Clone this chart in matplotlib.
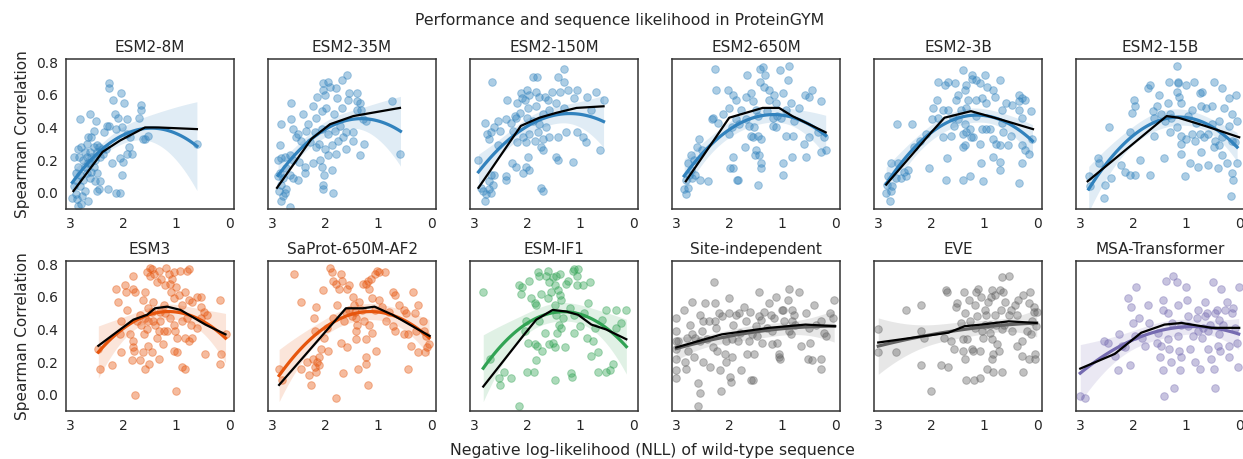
import numpy as np
import matplotlib
matplotlib.use("Agg")
import matplotlib.pyplot as plt

# model names and colours
models = ["ESM2-8M", "ESM2-35M", "ESM2-150M", "ESM2-650M", "ESM2-3B", "ESM2-15B",
          "ESM3", "SaProt-650M-AF2", "ESM-IF1", "Site-independent", "EVE", "MSA-Transformer"]
colors = ["#3182bd"] * 6 + ["#e6550d", "#e6550d", "#31a354", "#636363", "#636363", "#756bb1"]

# (NLL, spearman)
esm2_8m = [(2.82, .45), (2.62, .48), (2.52, .44), (2.27, .67), (2.27, .64), (2.20, .57), (2.04, .61), (1.98, .55),
           (2.15, .48), (2.09, .46), (1.92, .45), (1.71, .46), (1.66, .54), (1.66, .51), (2.55, .38), (2.60, .34),
           (2.31, .41), (2.27, .41), (2.36, .37), (2.13, .39), (2.03, .40), (1.93, .36), (1.87, .34), (1.90, .28),
           (1.92, .24), (1.84, .24), (1.54, .35), (1.63, .33), (1.59, .33), (0.61, .30), (2.06, .21), (2.01, .19),
           (2.22, .18), (2.02, .11), (2.14, .00), (2.06, .00), (2.29, .02), (2.86, .27), (2.93, .22), (2.83, .22),
           (2.75, .20), (2.68, .22), (2.62, .25), (2.55, .28), (2.50, .29), (2.45, .28), (2.41, .27), (2.49, .25),
           (2.60, .22), (2.53, .20), (2.66, .18), (2.72, .16), (2.85, .16), (2.89, .12), (2.82, .11), (2.69, .12),
           (2.60, .13), (2.50, .12), (2.44, .07), (2.53, .07), (2.63, .09), (2.75, .08), (2.87, .07), (2.93, .04),
           (2.82, .04), (2.72, .01), (2.49, .01), (2.46, .02), (2.96, -.03), (2.88, -.04), (2.79, -.07), (2.85, -.08),
           (2.67, -.05), (2.90, -.01), (2.77, -.02), (2.63, .18), (2.44, .22), (2.38, .24), (2.33, .27), (2.56, .16),
           (2.72, .25), (2.79, .28), (2.69, .30), (2.66, .34)]
esm2_35m = [(2.64, .55), (2.83, .42), (2.64, .45), (2.42, .48), (2.07, .50), (2.23, .53), (2.15, .59), (2.05, .67),
            (2.05, .63), (1.94, .68), (1.91, .65), (2.01, .60), (1.79, .64), (1.69, .69), (1.58, .72), (1.77, .58),
            (1.55, .61), (1.57, .57), (1.40, .61), (1.41, .56), (1.35, .55), (0.74, .56), (1.32, .51), (1.23, .44),
            (1.27, .30), (1.34, .23), (0.58, .24), (1.69, .52), (1.83, .48), (1.98, .52), (2.18, .46), (2.33, .42),
            (2.36, .38), (2.52, .36), (2.55, .34), (2.61, .39), (2.45, .32), (2.29, .31), (2.17, .28), (2.12, .30),
            (2.01, .27), (1.88, .29), (1.76, .32), (1.66, .34), (1.60, .37), (1.48, .32), (1.47, .37), (1.60, .27),
            (1.79, .24), (1.94, .23), (2.10, .20), (2.07, .16), (2.23, .18), (2.39, .16), (2.49, .19), (2.39, .12),
            (2.03, .11), (1.88, .14), (2.04, .05), (2.05, .02), (1.86, .00), (2.86, .29), (2.84, .21), (2.89, .20),
            (2.76, .22), (2.67, .23), (2.61, .20), (2.74, .15), (2.86, .12), (2.89, .10), (2.80, .09), (2.67, .11),
            (2.61, .09), (2.52, .08), (2.83, .05), (2.74, .02), (2.88, .01), (2.80, -.02), (2.83, -.05), (2.67, -.09),
            (2.75, .00), (1.72, .41), (1.82, .38), (1.94, .36), (1.41, .51), (1.28, .45), (2.07, .39), (2.20, .37)]
esm2_150m = [(2.66, .68), (2.92, .20), (2.80, .43), (2.75, .36), (2.68, .37), (2.62, .40), (2.55, .44), (2.52, .38),
             (2.72, .33), (2.55, .29), (2.40, .45), (2.38, .57), (2.31, .43), (2.27, .38), (2.21, .46), (2.20, .55),
             (2.12, .61), (2.10, .58), (2.05, .57), (2.01, .63), (1.96, .60), (1.89, .71), (1.82, .71), (1.84, .62),
             (1.77, .59), (1.66, .59), (1.61, .57), (1.53, .62), (1.42, .71), (1.30, .76), (1.31, .68), (1.39, .62),
             (1.23, .63), (1.07, .63), (0.88, .59), (0.71, .62), (0.56, .57), (0.79, .51), (1.11, .58), (1.30, .52),
             (1.45, .55), (1.58, .51), (1.71, .48), (1.83, .53), (1.99, .52), (2.13, .49), (2.24, .47), (2.01, .46),
             (1.89, .44), (1.77, .42), (1.64, .40), (1.80, .37), (1.96, .36), (2.08, .34), (2.20, .31), (2.02, .31),
             (1.86, .32), (1.71, .33), (1.58, .34), (1.42, .34), (1.26, .37), (1.06, .37), (0.95, .34), (0.90, .31),
             (0.63, .26), (1.14, .19), (1.45, .22), (1.42, .20), (1.74, .28), (1.71, .26), (1.99, .22), (2.03, .16),
             (1.96, .14), (2.08, .12), (2.21, .16), (2.29, .18), (2.41, .10), (2.40, .08), (1.74, .03), (1.71, .01),
             (2.68, .11), (2.62, .11), (2.72, .07), (2.65, .05), (2.73, .02), (2.84, .01), (2.78, -.01), (2.68, .00),
             (2.79, -.05), (2.87, .03)]
esm2_650m = [(2.27, .76), (2.25, .63), (2.02, .63), (1.93, .60), (1.88, .57), (2.00, .52), (2.11, .48), (2.31, .46),
             (2.21, .43), (2.33, .45), (2.57, .33), (2.60, .28), (2.51, .26), (2.73, .23), (2.66, .20), (2.77, .18),
             (2.73, .14), (2.65, .11), (2.76, .11), (2.81, .08), (2.85, .02), (2.82, -.01), (2.77, .03), (2.56, .08),
             (2.41, .07), (2.70, .09), (1.92, .22), (1.98, .15), (1.92, .15), (1.86, .08), (1.83, .08), (1.70, .28),
             (1.66, .72), (1.78, .51), (1.69, .59), (1.59, .61), (1.56, .56), (1.50, .51), (1.45, .47), (1.62, .41),
             (1.53, .40), (1.59, .35), (1.56, .34), (1.46, .35), (1.40, .33), (1.50, .26), (1.44, .23), (1.51, .23),
             (1.40, .18), (1.40, .15), (1.45, .05), (1.42, .76), (1.36, .77), (1.32, .72), (1.42, .68), (1.34, .65),
             (1.25, .63), (1.15, .60), (1.05, .75), (0.88, .78), (0.90, .69), (0.98, .61), (1.12, .55), (1.25, .57),
             (1.28, .50), (1.18, .46), (1.03, .46), (0.93, .51), (0.84, .55), (0.68, .52), (0.57, .60), (0.44, .63),
             (0.49, .59), (0.27, .56), (1.12, .40), (0.93, .35), (0.79, .35), (0.99, .18), (0.99, .11), (0.81, .22),
             (0.59, .30), (0.55, .22), (0.49, .34), (0.27, .25), (0.18, .26), (0.33, .37), (0.21, .34), (1.69, .45),
             (1.81, .42), (1.94, .40), (2.00, .36), (1.88, .45), (1.18, .41), (1.09, .47), (0.78, .44)]
esm2_3b = [(2.83, .05), (2.85, .00), (2.76, .01), (2.78, -.05), (2.74, .04), (2.81, .10), (2.76, .18), (2.63, .18),
           (2.65, .42), (2.36, .42), (2.66, .09), (2.57, .09), (2.47, .10), (2.44, .14), (2.51, .13), (2.04, .15),
           (2.32, .28), (2.22, .32), (2.10, .36), (1.99, .45), (1.96, .52), (1.89, .57), (1.88, .68), (1.74, .66),
           (1.68, .68), (1.56, .67), (1.87, .46), (1.78, .51), (1.68, .51), (1.70, .21), (1.73, .08), (1.78, .34),
           (1.63, .35), (1.57, .41), (1.53, .57), (1.49, .60), (1.40, .75), (1.37, .63), (1.34, .66), (1.24, .72),
           (1.23, .70), (1.15, .69), (1.08, .67), (0.99, .72), (0.94, .65), (0.83, .63), (0.70, .69), (1.43, .51),
           (1.34, .52), (1.30, .57), (1.16, .57), (1.05, .58), (0.96, .55), (0.80, .59), (0.67, .51), (0.58, .55),
           (0.47, .54), (0.34, .60), (0.29, .58), (0.23, .57), (0.35, .56), (0.11, .50), (0.29, .46), (0.35, .51),
           (1.37, .42), (1.40, .36), (1.34, .37), (1.27, .39), (1.21, .34), (1.40, .28), (1.37, .29), (1.25, .34),
           (1.08, .30), (1.05, .39), (0.96, .39), (0.89, .39), (0.83, .33), (0.77, .30), (0.67, .43), (0.64, .37),
           (0.49, .35), (0.56, .29), (0.70, .29), (0.84, .22), (0.70, .19), (0.70, .14), (1.06, .18), (1.03, .07),
           (1.26, .10), (1.40, .08), (0.29, .18), (0.35, .06), (0.28, .29), (0.23, .26), (0.16, .24), (0.09, .33),
           (1.49, .45), (1.58, .46), (1.15, .47)]
esm2_15b = [(2.84, .10), (2.82, .04), (2.56, -.03), (2.66, .21), (2.64, .18), (2.53, .05), (2.42, .09), (2.46, .40),
            (2.23, .17), (2.15, .13), (2.07, .11), (1.97, .11), (1.88, .20), (2.07, .37), (2.03, .49), (1.99, .57),
            (1.97, .53), (1.73, .64), (1.69, .66), (1.69, .11), (1.61, .35), (1.62, .50), (1.61, .46), (1.55, .53),
            (1.51, .60), (1.42, .21), (1.35, .55), (1.33, .68), (1.31, .37), (1.28, .46), (1.18, .78), (1.16, .67),
            (1.15, .68), (1.18, .62), (1.14, .59), (1.00, .66), (0.85, .68), (0.74, .61), (0.70, .62), (0.47, .68),
            (0.33, .64), (0.06, .60), (0.20, .58), (1.09, .55), (0.90, .51), (0.72, .53), (0.62, .52), (0.52, .53),
            (0.28, .52), (0.14, .48), (0.04, .44), (1.18, .40), (1.09, .35), (0.90, .36), (0.74, .36), (0.66, .34),
            (0.58, .36), (0.46, .32), (0.33, .34), (0.20, .41), (0.14, .32), (0.08, .31), (1.09, .30), (1.00, .33),
            (1.10, .24), (1.02, .10), (0.93, .18), (0.77, .16), (0.72, .25), (0.59, .17), (0.40, .15), (0.33, .23),
            (0.23, .18), (0.14, .12), (0.11, .08), (0.15, -.02), (0.04, .18), (0.47, .28), (0.39, .29), (0.84, .32),
            (1.41, .44), (1.47, .48), (1.31, .48), (0.97, .47), (0.81, .43), (0.52, .42), (0.39, .44)]
esm3 = [(2.47, .28), (2.44, .16), (2.22, .18), (2.14, .65), (2.09, .57), (2.05, .45), (2.06, .37), (2.05, .26),
        (1.96, .67), (1.94, .63), (1.92, .52), (1.81, .73), (1.81, .65), (1.78, .63), (1.82, .33), (1.81, .29),
        (1.79, .27), (1.83, .21), (1.78, .00), (1.74, .45), (1.69, .21), (1.68, .49), (1.63, .58), (1.60, .37),
        (1.59, .47), (1.55, .40), (1.59, .63), (1.55, .75), (1.50, .78), (1.46, .77), (1.50, .73), (1.42, .74),
        (1.36, .69), (1.33, .76), (1.29, .71), (1.54, .53), (1.46, .51), (1.43, .45), (1.40, .43), (1.33, .39),
        (1.36, .35), (1.54, .30), (1.46, .26), (1.33, .22), (1.52, .19), (1.62, .26), (1.25, .31), (1.30, .45),
        (1.24, .55), (1.21, .67), (1.19, .78), (1.14, .74), (1.11, .68), (1.08, .71), (1.05, .75), (1.10, .63),
        (1.05, .59), (1.00, .66), (0.95, .61), (0.92, .76), (0.80, .76), (0.75, .77), (0.83, .63), (0.89, .55),
        (0.76, .58), (0.70, .57), (0.61, .60), (0.53, .60), (0.54, .54), (0.47, .51), (0.42, .49), (0.54, .47),
        (1.11, .47), (1.05, .43), (1.17, .39), (1.02, .39), (0.98, .35), (1.05, .27), (0.98, .26), (1.24, .39),
        (0.83, .35), (0.76, .33), (0.70, .35), (0.73, .43), (0.61, .41), (0.80, .47), (0.89, .45), (0.89, .17),
        (0.84, .16), (1.00, .02), (0.45, .25), (0.18, .58), (0.15, .25), (0.18, .19), (0.07, .37), (1.54, .45),
        (1.67, .43), (1.87, .37), (1.43, .57), (1.30, .51), (1.21, .50), (1.59, .16)]
saprot = [(2.87, .16), (2.81, .09), (2.59, .74), (2.46, .57), (2.46, .16), (2.34, .20), (2.31, .12), (2.27, .06),
          (2.24, .22), (2.19, .17), (2.18, .14), (2.15, .20), (2.12, .23), (2.21, .47), (2.19, .39), (2.18, .54),
          (2.08, .28), (2.04, .64), (1.96, .41), (1.94, .27), (1.91, .78), (1.88, .75), (1.86, .70), (1.80, .68),
          (1.80, -.02), (1.77, .55), (1.74, .65), (1.71, .74), (1.69, .70), (1.71, .32), (1.67, .13), (1.64, .45),
          (1.58, .29), (1.55, .67), (1.58, .65), (1.48, .60), (1.45, .55), (1.61, .51), (1.55, .52), (1.50, .48),
          (1.43, .51), (1.42, .47), (1.41, .43), (1.36, .57), (1.31, .52), (1.28, .68), (1.24, .68), (1.20, .70),
          (1.14, .71), (1.07, .74), (1.03, .76), (0.98, .75), (0.87, .75), (1.17, .65), (1.12, .59), (1.07, .52),
          (1.42, .39), (1.42, .34), (1.39, .16), (1.26, .45), (1.24, .34), (1.23, .23), (1.24, .19), (1.17, .43),
          (1.12, .38), (1.04, .27), (1.20, .06), (0.98, .58), (0.92, .54), (0.85, .45), (0.79, .51), (0.73, .63),
          (0.69, .61), (0.73, .42), (0.69, .39), (0.60, .55), (0.52, .52), (0.47, .50), (0.51, .37), (0.44, .37),
          (0.44, .16), (0.35, .63), (0.30, .50), (0.25, .55), (0.28, .39), (0.38, .30), (0.16, .45), (0.13, .39),
          (0.09, .36), (0.08, .29), (0.11, .26), (0.04, .31), (0.25, .26), (1.86, .47), (2.02, .35), (2.12, .18)]
esm_if1 = [(2.83, .63), (2.70, .22), (2.53, .10), (2.51, .06), (2.43, .14), (2.31, .10), (2.16, -.07), (2.15, .67),
           (2.10, .66), (2.12, .62), (1.96, .70), (1.93, .59), (1.86, .56), (1.83, .55), (2.05, .39), (2.02, .45),
           (1.99, .32), (2.01, .14), (1.88, .14), (1.83, .21), (1.85, .31), (1.81, .30), (1.80, .75), (1.77, .73),
           (1.77, .45), (1.72, .27), (1.74, .62), (1.65, .73), (1.61, .76), (1.58, .69), (1.55, .63), (1.52, .72),
           (1.48, .67), (1.45, .73), (1.39, .74), (1.42, .64), (1.38, .61), (1.36, .58), (1.45, .49), (1.44, .38),
           (1.40, .43), (1.52, .32), (1.48, .29), (1.58, .31), (1.47, .09), (1.36, .41), (1.28, .29), (1.26, .68),
           (1.23, .70), (1.20, .53), (1.17, .13), (1.15, .11), (1.14, .76), (1.11, .77), (1.07, .73), (1.11, .38),
           (1.07, .67), (1.04, .77), (0.95, .67), (0.92, .50), (0.88, .35), (0.85, .56), (0.82, .69), (0.76, .33),
           (0.79, .24), (0.73, .41), (0.66, .26), (0.66, .14), (0.58, .46), (0.51, .52), (0.51, .14), (0.43, .15),
           (0.39, .19), (0.33, .52), (0.32, .41), (0.24, .44), (0.13, .52), (1.11, .49), (1.01, .42), (1.33, .47),
           (1.48, .55), (1.61, .59), (1.67, .38)]
site_indep = [(3.00, .47), (3.00, .39), (3.00, .33), (3.00, .28), (3.00, .22), (3.00, .15), (3.00, .10), (2.97, .33),
              (2.86, .52), (2.83, .20), (2.82, .16), (2.80, .35), (2.77, .27), (2.74, .43), (2.70, .57), (2.67, .23),
              (2.64, .35), (2.58, .07), (2.56, .01), (2.58, -.07), (2.55, .49), (2.51, .39), (2.49, .20), (2.45, .56),
              (2.42, .34), (2.39, .45), (2.36, .17), (2.31, .29), (2.29, .69), (2.27, .56), (2.25, .41), (2.23, .27),
              (2.17, .15), (2.15, .02), (2.14, .48), (2.08, .25), (2.07, .33), (2.06, .20), (2.01, .59), (2.00, .50),
              (1.98, .11), (1.96, .08), (1.95, .23), (1.92, .43), (1.88, .49), (1.83, .33), (1.79, .38), (1.77, .15),
              (1.72, .54), (1.69, .45), (1.66, .25), (1.63, .33), (1.60, .51), (1.58, .09), (1.55, .09), (1.53, .25),
              (1.50, .42), (1.47, .36), (1.44, .63), (1.41, .46), (1.38, .32), (1.35, .51), (1.28, .41), (1.25, .56),
              (1.22, .49), (1.19, .39), (1.11, .60), (1.09, .32), (1.07, .23), (1.06, .25), (1.05, .22), (1.01, .52),
              (0.99, .52), (0.97, .45), (0.90, .58), (0.87, .65), (0.87, .39), (0.84, .37), (0.81, .52), (0.78, .49),
              (0.75, .43), (0.68, .63), (0.65, .30), (0.56, .50), (0.52, .22), (0.48, .32), (0.43, .21), (0.40, .55),
              (0.37, .43), (0.27, .45), (0.27, .22), (0.27, .16), (0.21, .38), (0.18, .36), (0.10, .50), (0.05, .47),
              (0.02, .58), (2.49, .45), (2.26, .45), (2.20, .50), (1.82, .50), (1.44, .48), (1.15, .47), (0.81, .45),
              (2.70, .37), (2.55, .33), (1.95, .34), (1.57, .37), (1.19, .31), (0.49, .41)]
eve = [(3.00, .40), (3.00, .26), (2.66, .26), (2.47, .52), (2.20, .55), (2.19, .39), (2.19, .18), (2.14, .35),
       (2.01, .02), (1.82, .18), (1.75, .35), (1.72, .64), (1.70, .63), (1.68, .17), (1.63, .33), (1.57, .28),
       (1.54, .54), (1.52, .56), (1.43, .44), (1.40, .34), (1.40, .27), (1.37, .50), (1.37, .22), (1.38, .63),
       (1.34, .09), (1.32, .34), (1.29, .58), (1.27, .45), (1.24, .28), (1.21, .27), (1.19, .09), (1.18, .55),
       (1.15, .63), (1.11, .65), (1.13, .48), (1.08, .27), (1.08, .10), (1.06, .60), (1.05, .39), (1.02, .35),
       (0.99, .52), (0.94, .16), (0.92, .57), (0.89, .43), (0.89, .38), (0.87, .60), (0.86, .34), (0.86, .22),
       (0.85, .64), (0.83, .25), (0.83, .14), (0.80, .61), (0.80, .49), (0.77, .43), (0.75, .31), (0.73, .27),
       (0.70, .64), (0.68, .52), (0.67, .72), (0.66, .40), (0.66, .14), (0.64, .63), (0.62, .43), (0.61, .57),
       (0.54, .73), (0.54, .49), (0.49, .52), (0.48, .39), (0.42, .55), (0.39, .49), (0.39, .30), (0.37, .58),
       (0.29, .24), (0.26, .14), (0.28, .33), (0.26, .61), (0.20, .39), (0.16, .56), (0.16, .22), (0.13, .63),
       (0.11, .37), (0.07, .54), (0.07, .51), (0.05, .25), (0.04, .22), (0.03, .42), (0.01, .51), (0.10, .45),
       (0.99, .43), (1.18, .41), (0.96, .49)]
msa_tr = [(3.00, -.01), (2.91, -.02), (2.56, .33), (2.47, .32), (2.34, .24), (2.28, .15), (2.26, .37), (2.22, .30),
          (2.16, .29), (2.10, .59), (2.07, .18), (2.04, .54), (2.01, .44), (1.96, .36), (1.94, .66), (1.90, .47),
          (1.84, .35), (1.78, .30), (1.72, .55), (1.71, .44), (1.56, .32), (1.50, .23), (1.48, .30), (1.44, .52),
          (1.44, .58), (1.44, .15), (1.42, -.01), (1.39, .70), (1.35, .50), (1.34, .34), (1.33, .28), (1.29, .20),
          (1.27, .44), (1.25, .73), (1.23, .04), (1.18, .69), (1.15, .55), (1.14, .27), (1.12, .15), (1.09, .23),
          (1.09, .43), (1.01, .66), (0.99, .58), (0.96, .48), (0.93, .28), (0.87, .36), (0.84, .20), (0.80, .47),
          (0.77, .52), (0.74, .16), (0.71, .35), (0.68, .41), (0.65, .57), (0.61, .50), (0.58, .28), (0.55, .43),
          (0.53, .22), (0.49, .69), (0.47, .16), (0.46, .04), (0.42, .52), (0.41, .30), (0.39, .46), (0.36, .27),
          (0.34, .65), (0.30, .43), (0.27, .52), (0.23, .57), (0.20, .30), (0.20, .23), (0.14, .50), (0.11, .53),
          (0.04, .32), (0.03, .17), (0.01, .66), (0.08, .41), (0.96, .42), (0.77, .39), (0.58, .39), (0.39, .37),
          (1.15, .36), (1.53, .38), (0.65, .48), (0.46, .50)]

# binned-mean trend lines (black)
trend_x = [[2.94, 2.39, 2.06, 1.59, 1.33, 0.61],
           [2.91, 2.26, 1.91, 1.47, 0.59],
           [2.92, 2.12, 1.77, 1.45, 1.07, 0.56],
           [2.82, 2.00, 1.37, 1.06, 0.81, 0.18],
           [2.85, 2.00, 1.75, 1.25, 0.70, 0.08],
           [2.86, 1.37, 1.15, 0.65, 0.00],
           [2.47, 1.81, 1.55, 1.40, 1.17, 0.92, 0.45, 0.07],
           [2.87, 1.61, 1.29, 1.07, 0.73, 0.03],
           [2.83, 2.08, 1.83, 1.52, 1.26, 1.04, 0.79, 0.51, 0.13],
           [3.00, 2.14, 1.25, 0.56, 0.00],
           [3.00, 1.68, 1.37, 1.05, 0.54, 0.01],
           [3.00, 2.35, 1.85, 1.41, 1.09, 0.71, 0.52, 0.00]]
trend_y = [[0.01, 0.25, 0.32, 0.40, 0.40, 0.39],
           [0.03, 0.33, 0.42, 0.47, 0.52],
           [0.03, 0.41, 0.46, 0.49, 0.52, 0.53],
           [0.07, 0.46, 0.52, 0.52, 0.47, 0.37],
           [0.05, 0.37, 0.46, 0.50, 0.45, 0.39],
           [0.07, 0.47, 0.46, 0.41, 0.34],
           [0.30, 0.46, 0.49, 0.53, 0.54, 0.52, 0.43, 0.37],
           [0.06, 0.53, 0.53, 0.54, 0.49, 0.36],
           [0.05, 0.36, 0.46, 0.52, 0.51, 0.49, 0.43, 0.40, 0.34],
           [0.29, 0.37, 0.41, 0.43, 0.42],
           [0.32, 0.38, 0.42, 0.43, 0.45, 0.44],
           [0.16, 0.25, 0.38, 0.43, 0.44, 0.42, 0.41, 0.41]]

data = [esm2_8m, esm2_35m, esm2_150m, esm2_650m, esm2_3b, esm2_15b,
        esm3, saprot, esm_if1, site_indep, eve, msa_tr]


def quad_fit(x, y):
    # order-2 polynomial fit with 95% confidence band
    X = np.vstack([np.ones_like(x), x, x ** 2]).T
    beta, *_ = np.linalg.lstsq(X, y, rcond=None)
    resid = y - X @ beta
    s2 = resid @ resid / (len(x) - 3)
    cov = s2 * np.linalg.inv(X.T @ X)
    grid = np.linspace(x.min(), x.max(), 100)
    G = np.vstack([np.ones_like(grid), grid, grid ** 2]).T
    yhat = G @ beta
    se = np.sqrt(np.einsum("ij,jk,ik->i", G, cov, G))
    return grid, yhat, yhat - 1.96 * se, yhat + 1.96 * se


plt.rcParams["font.family"] = "DejaVu Sans"
fig = plt.figure(figsize=(12.43, 4.59), dpi=100)
W, H = 1243, 459

for i, (name, pts) in enumerate(zip(models, data)):
    row, col = divmod(i, 6)
    left = 66 + 202 * col
    top = 59 if row == 0 else 261
    ax = fig.add_axes([left / W, (H - top - 150) / H, 168 / W, 150 / H])
    pts = np.array(pts)
    x, y = pts[:, 0], pts[:, 1]
    c = colors[i]
    ax.scatter(x, y, s=30, color=c, alpha=0.4, edgecolors=c, linewidths=0.7, zorder=2)
    gx, gy, lo, hi = quad_fit(x, y)
    ax.fill_between(gx, lo, hi, color=c, alpha=0.15, linewidth=0, zorder=1)
    ax.plot(gx, gy, color=c, lw=2.3, zorder=3)
    ax.plot(trend_x[i], trend_y[i], color="black", lw=1.6, zorder=4)
    ax.set_xlim(3.08, -0.09)
    ax.set_ylim(-0.1, 0.82)
    ax.set_xticks([3, 2, 1, 0])
    ax.set_yticks([0.0, 0.2, 0.4, 0.6, 0.8])
    ax.tick_params(length=0, labelsize=10, colors="#262626", pad=6)
    if col == 0:
        ax.set_ylabel("Spearman Correlation", fontsize=11, color="#262626")
    else:
        ax.set_yticklabels([])
    for sp in ax.spines.values():
        sp.set_color("#333333")
        sp.set_linewidth(1.1)
    ax.set_title(name, fontsize=11, color="#262626", pad=5)

fig.text(620 / W, 1 - 20 / H, "Performance and sequence likelihood in ProteinGYM",
         ha="center", va="center", fontsize=11.3, color="#262626")
fig.text(652 / W, 1 - 451 / H, "Negative log-likelihood (NLL) of wild-type sequence",
         ha="center", va="center", fontsize=11.3, color="#262626")

fig.savefig("out.png", dpi=100)
